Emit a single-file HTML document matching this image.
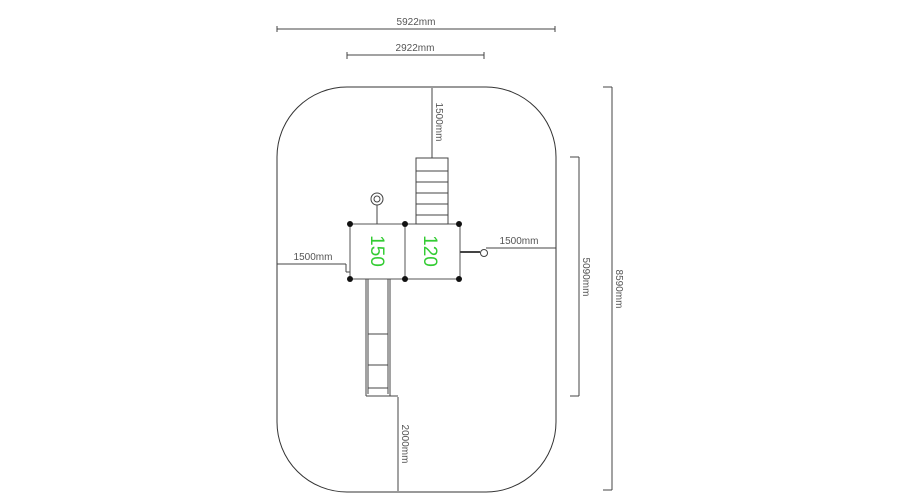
<!DOCTYPE html>
<html><head><style>body{margin:0;background:#fff}svg{display:block}</style></head>
<body>
<svg width="900" height="500" xmlns="http://www.w3.org/2000/svg" font-family="Liberation Sans, sans-serif">
<g stroke="#444" stroke-width="1" fill="none">
<rect x="277" y="87" width="279" height="405" rx="70" ry="70" stroke="#333"/>
<line x1="277" y1="29" x2="555" y2="29"/><line x1="277" y1="26" x2="277" y2="32"/><line x1="555" y1="26" x2="555" y2="32"/>
<line x1="347" y1="55" x2="484" y2="55"/><line x1="347" y1="52" x2="347" y2="59"/><line x1="484" y1="52" x2="484" y2="59"/>
<line x1="612" y1="87" x2="612" y2="490"/><line x1="603" y1="87" x2="612" y2="87"/><line x1="603" y1="490" x2="612" y2="490"/>
<line x1="579" y1="157" x2="579" y2="396"/><line x1="570" y1="157" x2="579" y2="157"/><line x1="570" y1="396" x2="579" y2="396"/>
<line x1="277" y1="264" x2="346" y2="264"/><line x1="346" y1="264" x2="346" y2="272"/><line x1="346" y1="272" x2="350" y2="272"/>
<line x1="486" y1="248" x2="556" y2="248"/>
<line x1="432" y1="88" x2="432" y2="158"/>
<line x1="398" y1="397" x2="398" y2="491"/>
<rect x="350" y="224" width="55" height="55" stroke="#555"/>
<rect x="405" y="224" width="55" height="55" stroke="#555"/>
<rect x="416" y="158" width="32" height="66"/>
<line x1="416" y1="171" x2="448" y2="171"/><line x1="416" y1="182" x2="448" y2="182"/><line x1="416" y1="193" x2="448" y2="193"/><line x1="416" y1="204" x2="448" y2="204"/><line x1="416" y1="215" x2="448" y2="215"/>
<line x1="366" y1="279" x2="366" y2="396"/><line x1="368" y1="279" x2="368" y2="394"/>
<line x1="388" y1="279" x2="388" y2="394"/><line x1="390" y1="279" x2="390" y2="396"/>
<line x1="368" y1="334" x2="388" y2="334"/><line x1="368" y1="365" x2="388" y2="365"/><line x1="368" y1="388" x2="388" y2="388"/>
<line x1="366" y1="396" x2="390" y2="396"/><line x1="390" y1="396" x2="398" y2="396"/>
<circle cx="377" cy="199" r="6"/><circle cx="377" cy="199" r="3"/>
<line x1="377" y1="205" x2="377" y2="224"/>
<line x1="460" y1="252" x2="480" y2="252" stroke-width="2"/>
<circle cx="484" cy="253" r="3.5"/>
</g>
<g fill="#111">
<circle cx="350" cy="224" r="3"/><circle cx="405" cy="224" r="3"/><circle cx="459" cy="224" r="3"/>
<circle cx="350" cy="279" r="3"/><circle cx="405" cy="279" r="3"/><circle cx="459" cy="279" r="3"/>
</g>
<g fill="#555" font-size="10">
<text x="416" y="25" text-anchor="middle">5922mm</text>
<text x="415" y="51" text-anchor="middle">2922mm</text>
<text x="313" y="260" text-anchor="middle">1500mm</text>
<text x="519" y="244" text-anchor="middle">1500mm</text>
<text transform="translate(436,122) rotate(90)" text-anchor="middle">1500mm</text>
<text transform="translate(402,444) rotate(90)" text-anchor="middle">2000mm</text>
<text transform="translate(583,277) rotate(90)" text-anchor="middle">5090mm</text>
<text transform="translate(616,289) rotate(90)" text-anchor="middle">8590mm</text>
</g>
<g fill="#3c3" font-size="19">
<text transform="translate(371,251) rotate(90)" text-anchor="middle">150</text>
<text transform="translate(424,251) rotate(90)" text-anchor="middle">120</text>
</g>
</svg>
</body></html>
